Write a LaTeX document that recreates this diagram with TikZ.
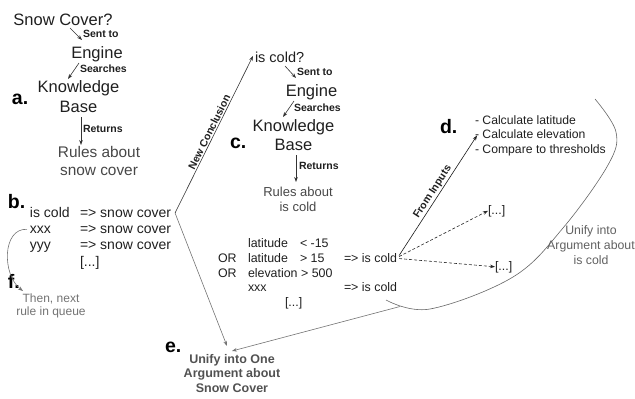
\documentclass[tikz,border=0pt]{standalone}
\usepackage{fontspec}
\setmainfont{Liberation Sans}
\usetikzlibrary{arrows.meta}
\begin{document}
\begin{tikzpicture}[x=1pt,y=-1pt,
  every node/.style={inner sep=0pt, outer sep=0pt},
  txt/.style={text=black!88},
  big/.style={txt, font=\fontsize{16.5}{19}\selectfont, anchor=base},
  lbl/.style={txt, font=\bfseries\fontsize{10.5}{12}\selectfont, anchor=base west},
  slbl/.style={txt, font=\bfseries\fontsize{10.5}{12}\selectfont, sloped, above=1.5pt, midway},
  letter/.style={text=black, font=\bfseries\fontsize{19.5}{22}\selectfont, anchor=base west},
  resa/.style={text=black!72, font=\fontsize{15.4}{18}\selectfont, anchor=base},
  resc/.style={text=black!72, font=\fontsize{13}{15}\selectfont, anchor=base},
  rule/.style={txt, font=\fontsize{14}{16}\selectfont, anchor=base west},
  crule/.style={txt, font=\fontsize{12.4}{14}\selectfont, anchor=base west},
  dlist/.style={txt, font=\fontsize{12.2}{14}\selectfont, anchor=base west},
  note/.style={text=black!55, font=\fontsize{12}{13}\selectfont, anchor=base},
  ubold/.style={text=black!68, font=\bfseries\fontsize{12.5}{14}\selectfont, anchor=base},
  ucold/.style={text=black!62, font=\fontsize{12.3}{14}\selectfont, anchor=base},
  arr/.style={draw=black!80, line width=0.6pt, -{Stealth[length=5pt,width=3.6pt]}},
  garr/.style={draw=black!55, line width=0.6pt, -{Stealth[length=5pt,width=3.6pt]}},
  darr/.style={draw=black!85, line width=0.6pt, dash pattern=on 3pt off 2pt, -{Stealth[length=5pt,width=3.6pt]}},
]
\useasboundingbox (0,0) rectangle (635,399);

% ---------- a. ----------
\node[big] (q1) at (63,25) {Snow Cover?};
\node[lbl] (l1) at (83,37) {Sent to};
\node[big] (eng1) at (97,58) {Engine};
\node[lbl] (l2) at (80,72) {Searches};
\node[big] (kb1) at (78.5,92) {Knowledge};
\node[big] (kb1b) at (78.5,112) {Base};
\node[letter] (la) at (12,104) {a.};
\node[lbl] (l3) at (83,132) {Returns};
\node[resa] (r1) at (99,157) {Rules about};
\node[resa] (r1b) at (99,175) {snow cover};
\draw[arr] ([shift={(7,3)}]q1.base) -- ([shift={(-15,-18)}]eng1.base);
\draw[arr] ([shift={(-18,5)}]eng1.base) -- ([shift={(-10.5,-13)}]kb1.base);
\draw[arr] ([shift={(2.5,5)}]kb1b.base) -- ([shift={(-18,-12)}]r1.base);

% ---------- b. ----------
\node[letter] (lb) at (8,208) {b.};
\node[rule] (b1) at (30,217) {is cold};
\node[rule] (sc1) at (80,217) {=> snow cover};
\node[rule] (b2) at (30,233) {xxx};
\node[rule] (sc2) at (80,233) {=> snow cover};
\node[rule] (b3) at (30,249) {yyy};
\node[rule] (sc3) at (80,249) {=> snow cover};
\node[rule] (b4) at (80,266) {[...]};

% ---------- f. ----------
\node[letter] (lf) at (8,288) {f.};
\node[note] (f1) at (51,302) {Then, next};
\node[note] (f1b) at (51,315) {rule in queue};
\draw[garr] ([xshift=-3]b2.west) .. controls (2,228) and (2,275) .. ([shift={(-28,-11)}]f1.base);

% ---------- c. ----------
\node[txt, font=\fontsize{14.5}{16}\selectfont, anchor=base west] (q2) at (255,62) {is cold?};
\node[lbl] (l4) at (297,75) {Sent to};
\node[big] (eng2) at (311.5,96) {Engine};
\node[lbl] (l5) at (294,111) {Searches};
\node[big] (kb2) at (293.5,131) {Knowledge};
\node[big] (kb2b) at (293.5,150) {Base};
\node[letter] (lc) at (230,148) {c.};
\node[lbl] (l6) at (299,169) {Returns};
\node[resc] (r2) at (298,196) {Rules about};
\node[resc] (r2b) at (298,211) {is cold};
\draw[arr] ([shift={(30,4)}]q2.base west) -- ([shift={(-15.5,-18)}]eng2.base);
\draw[arr] ([shift={(-17.5,5)}]eng2.base) -- ([shift={(-10.5,-14)}]kb2.base);
\draw[arr] ([shift={(2.5,5)}]kb2b.base) -- ([shift={(-2,-14)}]r2.base);

% new conclusion
\draw[arr] ([xshift=4]sc1.east) -- node[slbl] {New Conclusion} ([shift={(-2,-6)}]q2.base west);

% ---------- rules about is cold ----------
\node[crule] (c1a) at (248,247) {latitude};
\node[crule] (c1b) at (300,247) {< -15};
\node[crule] (c2o) at (218,262) {OR};
\node[crule] (c2a) at (248,262) {latitude};
\node[crule] (c2b) at (300,262) {> 15};
\node[crule] (c2c) at (344,262) {=> is cold};
\node[crule] (c3o) at (218,277) {OR};
\node[crule] (c3a) at (248,277) {elevation > 500};
\node[crule] (c4a) at (248,291) {xxx};
\node[crule] (c4c) at (344,291) {=> is cold};
\node[crule] (c5) at (285,306) {[...]};

% ---------- d. ----------
\node[letter] (ld) at (440,133) {d.};
\node[dlist] (d1) at (475,124) {- Calculate latitude};
\node[dlist] (d2) at (475,138.5) {- Calculate elevation};
\node[dlist] (d3) at (475,153) {- Compare to thresholds};
\node[crule] (db1) at (488,214) {[...]};
\node[crule] (db2) at (495,270) {[...]};
\draw[arr, draw=black!90] ([shift={(2,-2)}]c2c.east) -- node[slbl] {From Inputs} ([shift={(2,-3)}]d2.base west);
\draw[darr] ([shift={(2,-1)}]c2c.east) -- (db1.west);
\draw[darr] ([shift={(2,1)}]c2c.east) -- (db2.west);

% ---------- unify curve ----------
\draw[draw=black!60, line width=0.6pt] plot[smooth, tension=0.6] coordinates {(386,300) (430,309) (513,277) (563,228) (608,165) (616,132) (595,99)};
\node[ucold] (uc1) at (591,234.5) {Unify into};
\node[ucold] (uc2) at (591,249.5) {Argument about};
\node[ucold] (uc3) at (591,264.5) {is cold};
\coordinate (cj) at (400,306.5);

% ---------- e. ----------
\node[letter] (le) at (165,352) {e.};
\node[ubold] (u1) at (232,363) {Unify into One};
\node[ubold] (u2) at (232,377.5) {Argument about};
\node[ubold] (u3) at (232,392.5) {Snow Cover};
\draw[garr] ([xshift=4]sc1.east) -- ([shift={(-5,-17)}]u1.base);
\draw[garr] (cj) -- ([shift={(0,-12)}]u1.base);
\end{tikzpicture}
\end{document}
